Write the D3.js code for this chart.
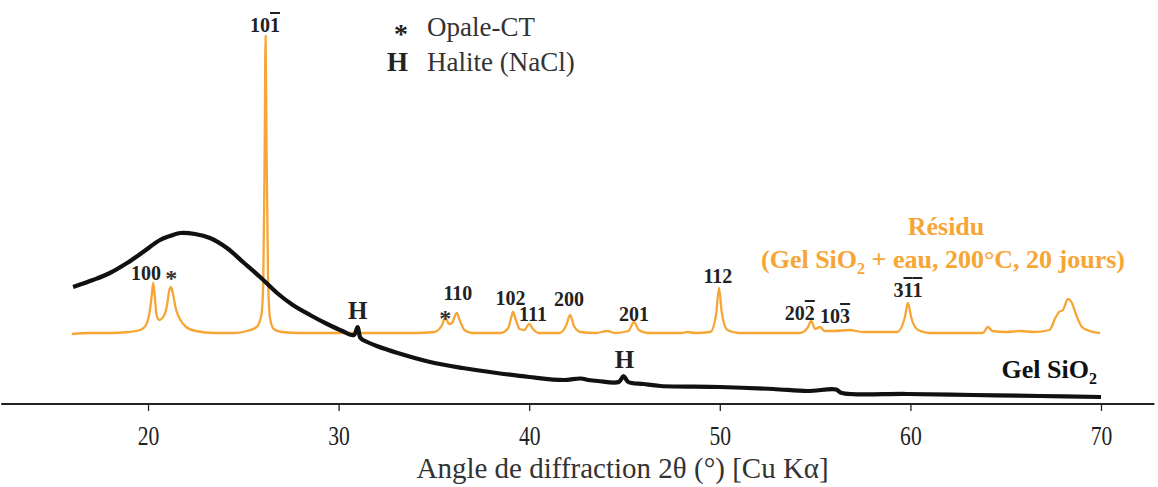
<!DOCTYPE html>
<html><head><meta charset="utf-8">
<script src="https://cdn.jsdelivr.net/npm/d3@7"></script>
<style>
html,body{margin:0;padding:0;background:#fff;}
svg{display:block;}
text{font-family:"Liberation Serif","Times New Roman",serif;}
.ol{text-decoration:overline;}
</style></head><body>
<svg id="c" width="1158" height="487"></svg>
<script>
// ---- data (2θ in degrees, intensity in arbitrary units) ----
const residuTheta = [16.0,17.0,18.0,19.0,19.6,19.9,20.1,20.2,20.27,20.35,20.45,20.6,20.8,21.0,21.1,21.2,21.3,21.45,21.7,22.0,22.5,23.5,24.5,25.2,25.7,25.95,26.05,26.12,26.17,26.22,26.3,26.4,26.6,27.0,28.0,30.0,32.0,34.0,35.0,35.4,35.6,35.8,35.95,36.1,36.2,36.35,36.6,37.0,38.5,38.9,39.05,39.15,39.3,39.5,39.75,40.0,40.2,40.5,41.6,41.95,42.15,42.35,42.7,43.5,44.1,44.5,45.2,45.5,45.75,46.2,48.0,48.3,48.7,49.5,49.8,49.96,50.1,50.4,51.0,54.2,54.6,54.8,55.0,55.26,55.5,56.0,56.8,57.5,59.3,59.7,59.87,60.05,60.4,61.0,63.8,64.07,64.3,65.0,65.75,66.5,67.3,67.6,67.8,68.0,68.27,68.45,68.7,69.0,69.4,69.95];
const residuCounts = [70,71,71,72,74,79,94,109,121,109,89,84,87,99,112,117,111,96,84,77,73,71,71,73,77,89,124,254,368,254,124,86,75,72,71,71,71,71,72,78,86,80,81,88,91,84,74,71,71,76,86,92,84,75,74,80,75,71,71,79,89,78,72,71,73,71,73,82,74,71,71,72,71,72,89,116,92,74,71,71,76,83,75,77,73,73,74,72,72,86,101,86,74,71,71,77,73,72,73,72,74,86,92,94,105,102,89,77,73,71];
const gelTheta = [16.07,17.11,18.0,18.9,19.74,20.63,21.15,21.68,22.47,23.25,24.14,24.98,25.88,26.77,27.6,28.5,29.4,30.2,30.8,31.0,31.15,31.5,32.0,33.1,34.8,36.5,38.3,40.0,41.8,42.7,43.1,43.6,44.7,44.95,45.2,46.0,46.9,50.0,52.8,54.6,56.1,56.4,59.8,63.3,66.8,70.0];
const gelCounts = [117,124,131,141,152,164,168,171,170,166,156,142,127,111,99,89,80,73,69,77,66,62,58,51,42,36,31,27,24,25.5,24,23,22,28,22,20,18,17,15,13,14.5,11,10,9,8,7];
const tickValues = [20,30,40,50,60,70];
const axisTitle = "Angle de diffraction 2θ (°) [Cu Kα]";
// peak annotations: [2θ, intensity at label baseline, text parts ([text, overline?])]
const peakLabels = [
  [26.14, 372, [["10",false],["1",true]]],
  [19.9, 124,  [["100",false]]],
  [36.26, 104, [["110",false]]],
  [39.02, 99,  [["102",false]]],
  [40.2, 83,   [["111",false]]],
  [42.09, 98,  [["200",false]]],
  [45.5, 83,   [["201",false]]],
  [49.9, 121,  [["112",false]]],
  [54.2, 84,   [["20",false],["2",true]]],
  [56.05, 81,  [["10",false],["3",true]]],
  [59.87, 107, [["3",false],["1",true],["1",true]]]
];
const opalMarks = [[21.22, 118],[35.6, 78]];   // "*" marks
const haliteMarks = [[31.0, 85],[45.0, 36]];   // "H" marks
const legendItems = [["*","Opale-CT"],["H","Halite (NaCl)"]];

// ---- scales ----
const svg = d3.select("#c");
const x = d3.scaleLinear().domain([20,70]).range([148,1101]);
const y = d3.scaleLinear().domain([0,400]).range([404,4]);
const orange = "#f7a535";

// axis
const ax = svg.append("g").attr("transform",`translate(0,${y(0)})`)
  .call(d3.axisBottom(x).tickValues(tickValues).tickSize(7).tickSizeOuter(0).tickFormat(d3.format("d")));
ax.select(".domain").remove();
ax.selectAll(".tick line").attr("stroke","#222").attr("stroke-width",1.3);
ax.selectAll(".tick text").attr("font-family","Liberation Serif").attr("font-size",27).attr("fill","#222")
  .attr("y",0).attr("dy",0).attr("transform","translate(0,41) scale(0.8,1)");
ax.append("line").attr("x1",x(12.3)).attr("x2",x(72.8)).attr("y1",0).attr("y2",0)
  .attr("stroke","#222").attr("stroke-width",2);
svg.append("text").attr("x",x(44.9)).attr("y",478).attr("text-anchor","middle")
  .attr("font-size",29).attr("fill","#333").text(axisTitle);

// lines
const line = d3.line().x(d=>x(d[0])).y(d=>y(d[1])).curve(d3.curveMonotoneX);
const lineSmooth = d3.line().x(d=>x(d[0])).y(d=>y(d[1])).curve(d3.curveCatmullRom.alpha(0.5));
svg.append("path").datum(residuTheta.map((t,i)=>[t,residuCounts[i]]))
  .attr("d",line).attr("fill","none").attr("stroke",orange).attr("stroke-width",2.3).attr("stroke-linejoin","round");
svg.append("path").datum(gelTheta.map((t,i)=>[t,gelCounts[i]]))
  .attr("d",lineSmooth).attr("fill","none").attr("stroke","#111").attr("stroke-width",4.2).attr("stroke-linejoin","round");

// peak labels
peakLabels.forEach(([t,v,parts])=>{
  const tx = svg.append("text").attr("x",x(t)).attr("y",y(v)).attr("text-anchor","middle")
    .attr("font-size",20).attr("font-weight","bold").attr("fill","#222");
  parts.forEach(([s,o])=>{ const ts=tx.append("tspan").text(s); if(o) ts.attr("class","ol"); });
});
opalMarks.forEach(([t,v])=>svg.append("text").attr("x",x(t)).attr("y",y(v)).attr("text-anchor","middle")
  .attr("font-size",24).attr("font-weight","bold").attr("fill","#333").text("*"));
haliteMarks.forEach(([t,v])=>svg.append("text").attr("x",x(t)).attr("y",y(v)).attr("text-anchor","middle")
  .attr("font-size",25).attr("font-weight","bold").attr("fill","#222").text("H"));

// legend
legendItems.forEach(([s,l],i)=>{
  svg.append("text").attr("x",408).attr("y",i?71:43).attr("text-anchor","end")
    .attr("font-size",i?27:28).attr("font-weight","bold").attr("fill","#222").text(s);
  svg.append("text").attr("x",427).attr("y",36+i*35).attr("font-size",27).attr("fill","#333").text(l);
});

// series labels
svg.append("text").attr("x",946).attr("y",235).attr("text-anchor","middle")
  .attr("font-size",26).attr("font-weight","bold").attr("fill",orange).text("Résidu");
const rt = svg.append("text").attr("x",943).attr("y",268).attr("text-anchor","middle")
  .attr("font-size",26).attr("font-weight","bold").attr("fill",orange);
rt.append("tspan").text("(Gel SiO");
rt.append("tspan").attr("dy",6).attr("font-size",16).text("2");
rt.append("tspan").attr("dy",-6).text(" + eau, 200°C, 20 jours)");
const gt = svg.append("text").attr("x",1097).attr("y",378).attr("text-anchor","end")
  .attr("font-size",26).attr("font-weight","bold").attr("fill","#111");
gt.append("tspan").text("Gel SiO");
gt.append("tspan").attr("dy",6).attr("font-size",16).text("2");
</script>
</body></html>
